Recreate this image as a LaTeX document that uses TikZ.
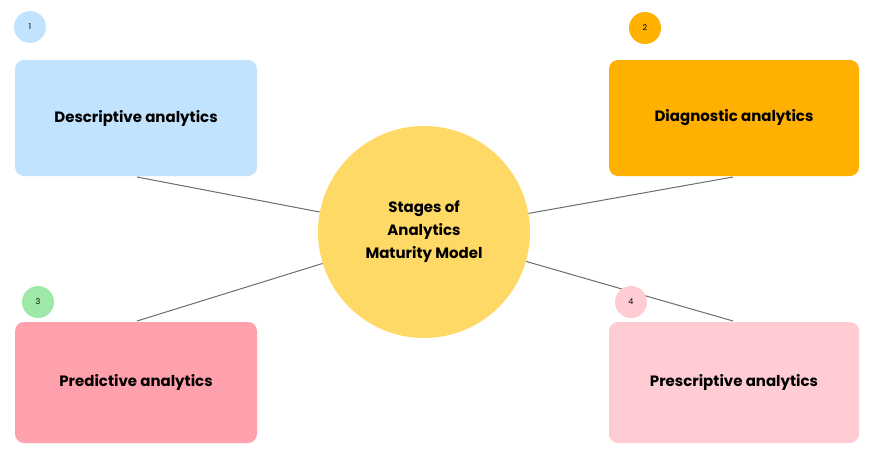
\documentclass[tikz,border=0pt]{standalone}
\usepackage{fontspec}
\setmainfont{Poppins}
\definecolor{cblue}{HTML}{C2E3FD}
\definecolor{corange}{HTML}{FFB000}
\definecolor{cred}{HTML}{FFA1AC}
\definecolor{cpink}{HTML}{FFCCD3}
\definecolor{cyellow}{HTML}{FFD966}
\definecolor{cgreen}{HTML}{9EE8A8}
\begin{document}
\begin{tikzpicture}[x=1pt,y=-1pt,
  box/.style={rounded corners=9pt,inner sep=0pt,font=\fontsize{15}{18}\selectfont\bfseries},
  num/.style={circle,minimum size=32pt,inner sep=0pt,font=\fontsize{8}{9}\selectfont},
  link/.style={draw=gray!85!black,line width=1pt}]
\useasboundingbox (0,0) rectangle (874,466);
\node[box,fill=cblue,minimum width=242pt,minimum height=116pt] (d1) at (136,118) {Descriptive analytics};
\node[box,fill=corange,minimum width=250pt,minimum height=116pt] (d2) at (734,118) {Diagnostic analytics};
\node[box,fill=cred,minimum width=242pt,minimum height=121pt] (d3) at (136,382.5) {Predictive analytics};
\node[box,fill=cpink,minimum width=250pt,minimum height=121pt] (d4) at (734,382.5) {Prescriptive analytics};
\coordinate (a1) at (137,177); \coordinate (a2) at (733,177);
\coordinate (a3) at (137,321); \coordinate (a4) at (733,321);
\node[circle,fill=cyellow,minimum size=212pt,inner sep=0pt,align=center,font=\fontsize{15}{23}\selectfont\bfseries] (c) at (424,232) {Stages of\\Analytics\\Maturity Model};
\draw[link] (a1) -- (c);
\draw[link] (a2) -- (c);
\draw[link] (a3) -- (c);
\draw[link] (a4) -- (c);
\node[num,fill=cblue] (n1) at (30,27) {1};
\node[num,fill=corange] (n2) at (645,28) {2};
\node[num,fill=cgreen] (n3) at (38,302) {3};
\node[num,fill=cpink] (n4) at (631,302) {4};
\end{tikzpicture}
\end{document}
